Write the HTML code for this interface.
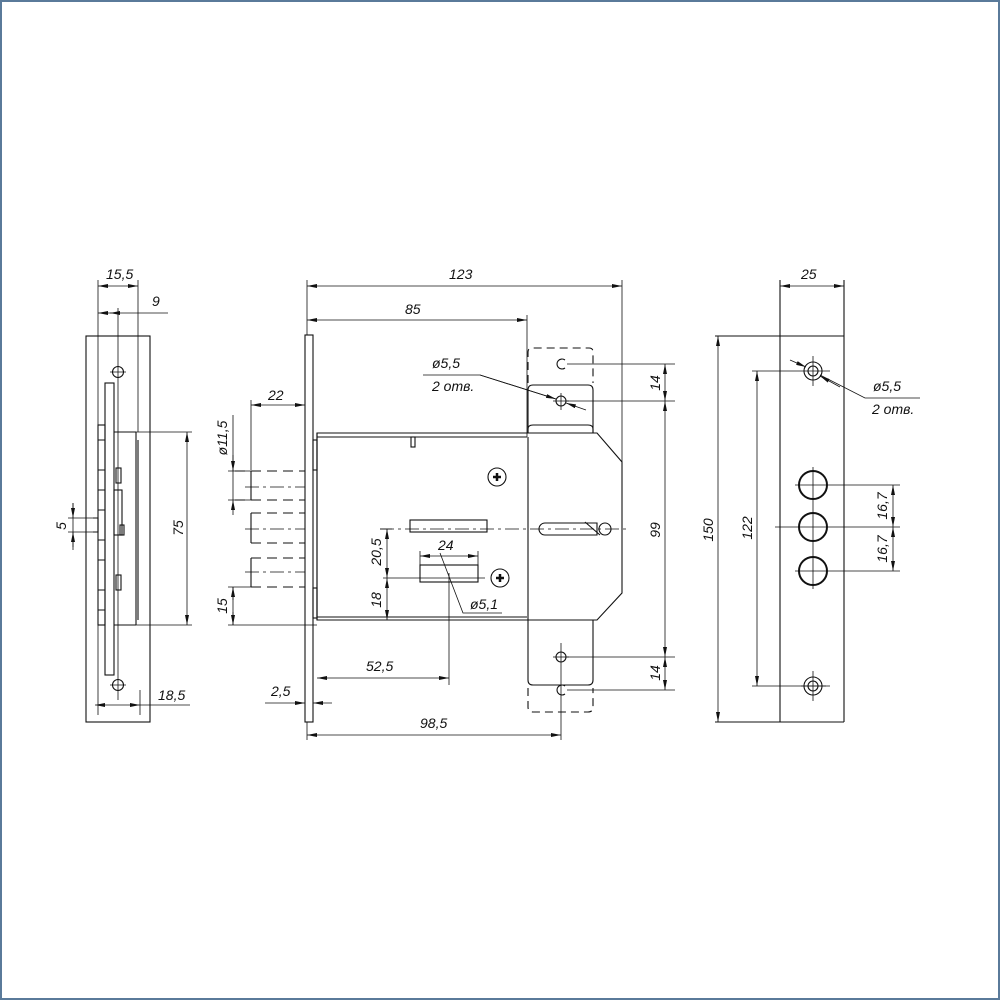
<!DOCTYPE html>
<html><head><meta charset="utf-8"><style>
html,body{margin:0;padding:0;background:#fff}
svg{display:block}
text{font-family:"Liberation Sans",sans-serif;font-style:italic;font-size:14px;fill:#111}
</style></head><body>
<svg width="1000" height="1000" viewBox="0 0 1000 1000" xmlns="http://www.w3.org/2000/svg">
<defs>
<marker id="a" viewBox="0 0 10 4" refX="10" refY="2" markerWidth="10" markerHeight="4" orient="auto-start-reverse" markerUnits="userSpaceOnUse"><path d="M0,0 L10,2 L0,4 z" fill="#111"/></marker>
</defs>
<rect x="1" y="1" width="998" height="998" fill="none" stroke="#5a7a9a" stroke-width="2"/>
<g stroke="#111" stroke-width="1.1" fill="none">
<!-- LEFT VIEW -->
<rect x="86" y="336" width="64" height="386"/>
<rect x="105" y="383" width="9" height="292"/>
<rect x="98" y="425" width="7" height="200"/>
<path d="M114,432 H136 M114,625 H136 M136,432 V625 M138,440 V620"/>
<path d="M98,440 H105 M98,470 H105 M98,490 H105 M98,510 H105 M98,540 H105 M98,560 H105 M98,590 H105 M98,610 H105"/>
<rect x="116" y="468" width="5" height="15"/><rect x="114" y="490" width="8" height="45"/><rect x="120" y="525" width="4" height="10"/><rect x="116" y="575" width="5" height="15"/>
<path d="M93,518 H98 V532 H93"/>
<circle cx="118" cy="372" r="5.5"/><circle cx="118" cy="685" r="5.5"/>
<path d="M118,308 V700 M110,372 H126 M110,685 H126" stroke-width="0.8"/>
<path d="M98,280 V715 M138,280 V432 M140,690 V715" stroke-width="0.8"/>
<line x1="98" y1="286" x2="138" y2="286" marker-start="url(#a)" marker-end="url(#a)" stroke-width="0.8"/>
<line x1="98" y1="313" x2="118" y2="313" marker-start="url(#a)" stroke-width="0.8"/><line x1="118" y1="313" x2="168" y2="313" stroke-width="0.8"/>
<line x1="118" y1="313" x2="110" y2="313" marker-end="url(#a)" stroke-width="0.8"/>
<path d="M135,432 H192 M135,625 H192" stroke-width="0.8"/>
<line x1="187" y1="432" x2="187" y2="625" marker-start="url(#a)" marker-end="url(#a)" stroke-width="0.8"/>
<path d="M73,503 V550 M68,518 H93 M68,532 H93" stroke-width="0.8"/>
<line x1="73" y1="503" x2="73" y2="518" marker-end="url(#a)" stroke-width="0.8"/>
<line x1="73" y1="547" x2="73" y2="532" marker-end="url(#a)" stroke-width="0.8"/>
<line x1="95" y1="705" x2="140" y2="705" marker-start="url(#a)" marker-end="url(#a)" stroke-width="0.8"/><line x1="140" y1="705" x2="190" y2="705" stroke-width="0.8"/>

<!-- CENTER VIEW -->
<rect x="305" y="335" width="8" height="387"/>
<path d="M317,433 H597 L622,462 V593 L597,620 H317 Z"/>
<path d="M317,433 V620 M317,437 H527 M317,617 H527 M528,620 V437"/>
<rect x="313" y="440" width="4" height="30"/><rect x="313" y="588" width="4" height="30"/>
<rect x="411" y="437" width="4" height="10"/>
<path d="M528,383 V352 Q528,348 532,348 H589 Q593,348 593,352 V383" stroke-dasharray="8,5"/>
<path d="M528,433 V390 Q528,385 533,385 H588 Q593,385 593,390 V433"/>
<path d="M528,433 V429 Q528,425 533,425 H588 Q593,425 593,429 V433"/>
<path d="M565,360 A5,5 0 1 0 565,368"/>
<circle cx="561" cy="401" r="5"/><path d="M553,401 H569 M561,393 V410" stroke-width="0.8"/>
<path d="M528,620 V680 Q528,685 533,685 H588 Q593,685 593,680 V620"/>
<path d="M528,688 V707 Q528,712 533,712 H588 Q593,712 593,707 V688" stroke-dasharray="8,5"/>
<circle cx="561" cy="657" r="5"/><path d="M553,657 H569" stroke-width="0.8"/>
<path d="M565,686 A5,5 0 1 0 565,694"/>
<path d="M561,643 V740" stroke-width="0.8"/>
<rect x="410" y="520" width="77" height="12"/>
<path d="M545,523 H597 V535 H545 A6,6 0 0 1 545,523 Z"/>
<circle cx="605" cy="529" r="6"/>
<path d="M585,522 L600,535"/>
<path d="M380,529 H630" stroke-width="0.8" stroke-dasharray="14,4,3,4"/>
<circle cx="497" cy="477" r="9"/><path d="M493,477 H501 M497,473 V481" stroke-width="2.5"/>
<circle cx="500" cy="578" r="9"/><path d="M496,578 H504 M500,574 V582" stroke-width="2.5"/>
<!-- bolts -->
<path d="M235,471 H305 M235,500 H305 M251,513 H305 M251,543 H305 M251,558 H305 M251,587 H305" stroke-dasharray="10,6"/>
<path d="M251,471 V500 M251,513 V543 M251,558 V587"/>
<path d="M245,487 H305 M245,529 H305 M245,572 H305" stroke-width="0.8" stroke-dasharray="14,4,3,4"/>
<path d="M251,400 V470 M305,400 V335" stroke-width="0.8"/>
<line x1="251" y1="405" x2="305" y2="405" marker-start="url(#a)" marker-end="url(#a)" stroke-width="0.8"/>
<path d="M233,415 V500 M228,471 H251 M228,500 H251 M233,587 V625 M228,587 H251 M228,625 H317" stroke-width="0.8"/>
<line x1="233" y1="455" x2="233" y2="471" marker-end="url(#a)" stroke-width="0.8"/>
<line x1="233" y1="515" x2="233" y2="500" marker-end="url(#a)" stroke-width="0.8"/>
<line x1="233" y1="600" x2="233" y2="587" marker-end="url(#a)" stroke-width="0.8"/>
<line x1="233" y1="612" x2="233" y2="625" marker-end="url(#a)" stroke-width="0.8"/>
<!-- top dims -->
<path d="M307,280 V335 M622,280 V462 M527,315 V437" stroke-width="0.8"/>
<line x1="307" y1="286" x2="622" y2="286" marker-start="url(#a)" marker-end="url(#a)" stroke-width="0.8"/>
<line x1="307" y1="320" x2="527" y2="320" marker-start="url(#a)" marker-end="url(#a)" stroke-width="0.8"/>
<path d="M423,375 H480 L556,399" stroke-width="0.8"/>
<line x1="480" y1="375" x2="556" y2="399" marker-end="url(#a)" stroke-width="0.8"/>
<line x1="586" y1="410" x2="566" y2="403" marker-end="url(#a)" stroke-width="0.8"/>
<!-- right dims of center -->
<path d="M567,364 H675 M567,401 H675 M567,657 H675 M567,690 H675" stroke-width="0.8"/>
<line x1="665" y1="364" x2="665" y2="401" marker-start="url(#a)" marker-end="url(#a)" stroke-width="0.8"/>
<line x1="665" y1="401" x2="665" y2="657" marker-start="url(#a)" marker-end="url(#a)" stroke-width="0.8"/>
<line x1="665" y1="657" x2="665" y2="690" marker-start="url(#a)" marker-end="url(#a)" stroke-width="0.8"/>
<!-- 20.5 / 18 -->
<path d="M380,529 H392 M383,578 H485" stroke-width="0.8"/>
<line x1="387" y1="529" x2="387" y2="578" marker-start="url(#a)" marker-end="url(#a)" stroke-width="0.8"/>
<line x1="387" y1="578" x2="387" y2="620" marker-start="url(#a)" marker-end="url(#a)" stroke-width="0.8"/>
<rect x="420" y="565" width="58" height="17"/>
<path d="M420,551 V565 M478,551 V565" stroke-width="0.8"/>
<line x1="420" y1="556" x2="478" y2="556" marker-start="url(#a)" marker-end="url(#a)" stroke-width="0.8"/>
<path d="M440,553 L463,613 H502" stroke-width="0.8"/>
<path d="M449,573 V685" stroke-width="0.8"/>
<line x1="317" y1="678" x2="449" y2="678" marker-start="url(#a)" marker-end="url(#a)" stroke-width="0.8"/>
<line x1="265" y1="703" x2="305" y2="703" marker-end="url(#a)" stroke-width="0.8"/>
<line x1="332" y1="703" x2="313" y2="703" marker-end="url(#a)" stroke-width="0.8"/>
<path d="M307,722 V740" stroke-width="0.8"/>
<line x1="307" y1="735" x2="561" y2="735" marker-start="url(#a)" marker-end="url(#a)" stroke-width="0.8"/>

<!-- RIGHT VIEW -->
<path d="M780,280 V722 M844,280 V722 M715,336 H844 M715,722 H844"/>
<line x1="780" y1="286" x2="844" y2="286" marker-start="url(#a)" marker-end="url(#a)" stroke-width="0.8"/>
<line x1="718" y1="336" x2="718" y2="722" marker-start="url(#a)" marker-end="url(#a)" stroke-width="0.8"/>
<path d="M752,371 H830 M752,686 H830" stroke-width="0.8"/>
<line x1="757" y1="371" x2="757" y2="686" marker-start="url(#a)" marker-end="url(#a)" stroke-width="0.8"/>
<circle cx="813" cy="371" r="5"/><circle cx="813" cy="371" r="9"/>
<circle cx="813" cy="686" r="5"/><circle cx="813" cy="686" r="9"/>
<path d="M813,356 V386 M813,671 V701 M801,686 H826" stroke-width="0.8"/>
<circle cx="813" cy="485" r="14" stroke-width="2"/><circle cx="813" cy="527" r="14" stroke-width="2"/><circle cx="813" cy="571" r="14" stroke-width="2"/>
<path d="M813,467 V589 M795,485 H900 M775,527 H900 M795,571 H900" stroke-width="0.8"/>
<line x1="893" y1="485" x2="893" y2="527" marker-start="url(#a)" marker-end="url(#a)" stroke-width="0.8"/>
<line x1="893" y1="527" x2="893" y2="571" marker-start="url(#a)" marker-end="url(#a)" stroke-width="0.8"/>
<line x1="790" y1="360" x2="806" y2="367" marker-end="url(#a)" stroke-width="0.8"/>
<path d="M820,375 L865,398 H920" stroke-width="0.8"/>
<line x1="840" y1="387" x2="820" y2="376" marker-end="url(#a)" stroke-width="0.8"/>
</g>
<!-- labels -->
<text x="106" y="279">15,5</text>
<text x="152" y="306">9</text>
<text x="158" y="700">18,5</text>
<text transform="translate(183,528) rotate(-90)" text-anchor="middle">75</text>
<text transform="translate(66,526) rotate(-90)" text-anchor="middle">5</text>
<text x="449" y="279">123</text>
<text x="405" y="314">85</text>
<text x="268" y="400">22</text>
<text transform="translate(227,438) rotate(-90)" text-anchor="middle">ø11,5</text>
<text transform="translate(227,606) rotate(-90)" text-anchor="middle">15</text>
<text x="432" y="368">ø5,5</text>
<text x="432" y="391">2 отв.</text>
<text transform="translate(660,383) rotate(-90)" text-anchor="middle">14</text>
<text transform="translate(660,530) rotate(-90)" text-anchor="middle">99</text>
<text transform="translate(660,673) rotate(-90)" text-anchor="middle">14</text>
<text transform="translate(381,552) rotate(-90)" text-anchor="middle">20,5</text>
<text transform="translate(381,600) rotate(-90)" text-anchor="middle">18</text>
<text x="438" y="550">24</text>
<text x="470" y="609">ø5,1</text>
<text x="366" y="671">52,5</text>
<text x="271" y="696">2,5</text>
<text x="420" y="728">98,5</text>
<text x="801" y="279">25</text>
<text transform="translate(713,530) rotate(-90)" text-anchor="middle">150</text>
<text transform="translate(752,528) rotate(-90)" text-anchor="middle">122</text>
<text transform="translate(887,506) rotate(-90)" text-anchor="middle">16,7</text>
<text transform="translate(887,549) rotate(-90)" text-anchor="middle">16,7</text>
<text x="873" y="391">ø5,5</text>
<text x="872" y="414">2 отв.</text>
</svg>
</body></html>
